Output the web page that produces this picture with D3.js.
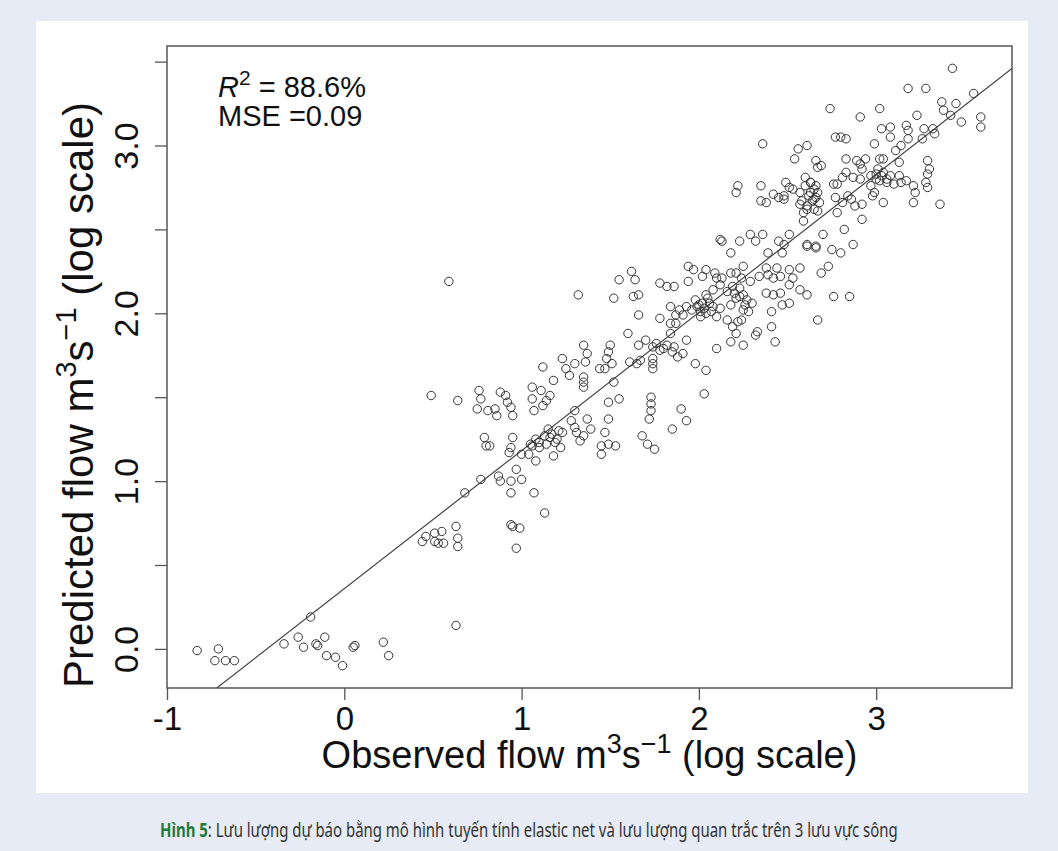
<!DOCTYPE html>
<html>
<head>
<meta charset="utf-8">
<script src="https://cdn.jsdelivr.net/npm/d3@7"></script>
<style>
  body { margin: 0; background: #e6ebf5; }
  svg { display: block; }
</style>
</head>
<body>
<div id="chart"></div>
<script>
// observed vs predicted flow (log10 m3/s)
const obsX = [
  -0.83,-0.71,-0.73,-0.67,-0.62,-0.34,-0.19,-0.26,-0.23,-0.16,-0.15,-0.11,-0.10,-0.05,-0.01,0.05,0.06,0.22,0.25,0.63,
  0.49,0.46,0.44,0.51,0.55,0.51,0.56,0.53,0.63,0.64,0.64,0.68,0.59,
  0.64,0.76,0.77,0.75,0.81,0.85,0.86,0.88,0.91,0.92,0.94,0.95,
  1.06,1.11,1.12,1.06,1.07,1.12,1.14,1.16,1.18,1.23,1.25,1.27,1.30,1.35,1.37,1.36,1.35,1.35,1.35,
  1.44,1.48,1.49,1.50,1.51,1.52,1.47,1.49,1.55,1.60,1.61,1.65,1.67,1.66,1.70,1.74,1.74,1.74,1.74,1.78,1.82,1.85,1.88,1.91,1.93,1.84,
  1.73,1.73,1.73,1.72,1.85,1.90,1.93,1.68,1.71,1.75,
  1.49,1.47,1.45,1.45,1.49,1.53,1.37,1.39,1.35,1.33,1.30,1.28,1.30,1.31,1.23,1.22,1.19,1.18,1.16,1.15,1.13,1.14,1.10,1.10,1.08,1.05,1.06,1.08,1.04,1.00,0.95,0.94,0.93,0.97,
  0.79,0.80,0.82,0.87,0.88,0.94,1.00,0.94,1.07,1.13,0.77,0.94,0.95,0.99,0.97,
  1.32,1.52,1.55,1.62,1.64,1.63,1.66,1.66,
  1.78,1.82,1.86,1.94,1.94,1.97,2.04,2.02,2.09,2.10,2.13,2.18,2.21,2.25,2.24,2.29,2.34,2.38,2.44,2.39,2.42,2.46,2.51,2.57,2.53,2.51,2.57,2.61,2.46,2.42,2.38,2.47,2.51,2.41,2.41,2.33,2.32,2.43,2.25,2.18,2.10,2.04,2.03,1.98,
  2.22,2.24,2.19,2.21,2.16,2.12,2.07,2.04,2.10,2.01,1.99,1.96,1.98,2.02,2.04,2.08,2.12,2.16,2.19,2.23,2.25,2.21,2.26,2.30,2.28,2.25,2.18,1.93,1.89,1.91,1.87,1.84,1.78,1.84,1.87,
  2.12,2.13,2.18,2.23,2.29,2.36,2.32,2.39,2.45,2.51,2.48,2.47,2.61,2.66,
  2.22,2.21,2.35,2.35,2.38,2.42,2.45,2.48,2.53,2.57,2.60,2.63,2.57,2.61,2.65,2.67,2.59,2.67,2.36,
  3.43,3.18,3.28,3.55,3.37,3.45,3.38,3.42,3.48,3.59,3.59,2.74,2.91,3.02,3.23,3.03,3.08,3.17,3.18,3.27,3.32,3.33,3.26,3.08,2.99,3.18,3.14,3.11,2.77,2.80,2.83,2.61,2.56,2.54,2.66,2.69,2.67,2.83,2.89,2.91,2.94,2.92,3.02,3.04,3.13,3.29,3.30,3.29,
  2.83,2.81,2.87,2.91,2.97,3.00,3.04,3.08,3.13,3.02,3.06,3.10,3.14,3.17,3.21,3.22,3.28,3.29,2.97,2.99,2.98,3.04,3.21,3.36,2.76,2.78,2.77,2.81,2.86,2.88,2.92,2.84,2.78,2.92,2.82,2.70,2.87,2.75,2.80,2.73,2.69,2.76,2.85,2.61,2.66,
  2.60,2.63,2.65,2.66,2.58,2.61,2.64,2.66,2.68,2.59,2.67,2.49,2.48,2.51,
  2.00,2.03,2.06,2.05,2.08,2.01,2.20,2.23,2.27,3.00,3.03,3.06,3.01,2.62,2.65,2.63,1.17,1.20,1.21,1.76,1.80,1.86
];
const predY = [
  -0.01,0.00,-0.07,-0.07,-0.07,0.03,0.19,0.07,0.01,0.03,0.02,0.07,-0.04,-0.05,-0.10,0.01,0.02,0.04,-0.04,0.14,
  1.51,0.67,0.64,0.69,0.70,0.64,0.63,0.63,0.73,0.61,0.66,0.93,2.19,
  1.48,1.54,1.49,1.43,1.42,1.43,1.39,1.53,1.51,1.47,1.44,1.39,
  1.56,1.54,1.68,1.49,1.42,1.45,1.48,1.51,1.60,1.73,1.67,1.63,1.70,1.81,1.76,1.71,1.62,1.59,1.56,
  1.67,1.73,1.77,1.81,1.70,1.59,1.67,1.47,1.49,1.88,1.71,1.70,1.72,1.81,1.84,1.80,1.73,1.70,1.67,1.78,1.81,1.77,1.74,1.76,1.84,1.88,
  1.50,1.46,1.42,1.37,1.31,1.43,1.36,1.27,1.22,1.19,
  1.37,1.29,1.21,1.16,1.22,1.21,1.37,1.31,1.27,1.24,1.42,1.36,1.32,1.29,1.29,1.20,1.23,1.15,1.26,1.31,1.27,1.22,1.23,1.20,1.25,1.22,1.21,1.12,1.16,1.16,1.26,1.20,1.17,1.07,
  1.26,1.21,1.21,1.03,1.00,1.00,1.01,0.93,0.93,0.81,1.01,0.74,0.73,0.72,0.60,
  2.11,2.09,2.20,2.25,2.20,2.10,2.11,1.99,
  2.18,2.16,2.16,2.19,2.28,2.26,2.26,2.22,2.24,2.21,2.21,2.24,2.24,2.28,2.21,2.19,2.22,2.27,2.27,2.23,2.21,2.22,2.26,2.27,2.21,2.17,2.14,2.11,2.12,2.11,2.12,2.05,2.06,2.01,1.92,1.89,1.87,1.83,1.81,1.83,1.79,1.66,1.52,1.70,
  1.95,1.96,1.92,1.88,1.96,2.03,2.01,2.00,1.98,1.98,2.04,2.02,2.08,2.06,2.11,2.14,2.17,2.13,2.16,2.15,2.11,2.09,2.05,2.06,2.01,2.02,2.05,2.04,2.02,1.99,1.99,2.04,1.97,1.94,1.94,
  2.44,2.43,2.36,2.43,2.47,2.47,2.43,2.36,2.43,2.47,2.41,2.36,2.40,2.39,
  2.76,2.72,2.76,2.67,2.66,2.71,2.69,2.68,2.74,2.72,2.76,2.78,2.65,2.62,2.68,2.72,2.55,1.96,3.01,
  3.46,3.34,3.34,3.31,3.26,3.25,3.21,3.18,3.14,3.17,3.11,3.22,3.17,3.22,3.18,3.10,3.11,3.12,3.09,3.10,3.10,3.07,3.04,3.05,3.01,3.04,3.00,2.97,3.05,3.05,3.04,3.00,2.98,2.92,2.91,2.88,2.87,2.92,2.91,2.89,2.92,2.86,2.92,2.92,2.90,2.91,2.86,2.83,
  2.84,2.81,2.81,2.80,2.82,2.83,2.84,2.82,2.82,2.79,2.78,2.77,2.78,2.79,2.76,2.72,2.78,2.75,2.76,2.72,2.70,2.66,2.66,2.65,2.77,2.77,2.69,2.66,2.68,2.64,2.65,2.70,2.60,2.56,2.50,2.47,2.41,2.38,2.36,2.28,2.24,2.10,2.10,2.41,2.40,
  2.81,2.78,2.74,2.76,2.67,2.64,2.67,2.69,2.66,2.60,2.61,2.78,2.70,2.75,
  2.05,2.03,2.06,2.09,2.04,2.01,2.12,2.10,2.08,2.80,2.82,2.80,2.86,2.70,2.62,2.72,1.28,1.25,1.30,1.82,1.79,1.80
];
const xTicks = [-1, 0, 1, 2, 3];
const yTicks = [0, 0.5, 1, 1.5, 2, 2.5, 3, 3.5];
const fit = { intercept: 0.359, slope: 0.823 };
const r2Text = "88.6%";
const mseText = "0.09";
const captionLead = "Hình 5";
const captionRest = ": Lưu lượng dự báo bằng mô hình tuyến tính elastic net và lưu lượng quan trắc trên 3 lưu vực sông";

const width = 1058, height = 851;
const m = { left: 167, right: 1012, top: 46, bottom: 688 };
const font = "'Liberation Sans', Arial, sans-serif";

const svg = d3.select("#chart").append("svg")
  .attr("width", width).attr("height", height);

svg.append("rect").attr("width", width).attr("height", height).attr("fill", "#e6ebf5");
svg.append("rect").attr("x", 36).attr("y", 21).attr("width", 992).attr("height", 772).attr("fill", "#fff");

const x = d3.scaleLinear().domain([-1, 3.766]).range([m.left, m.right]);
const y = d3.scaleLinear().domain([-0.233, 3.593]).range([m.bottom, m.top]);

svg.append("clipPath").attr("id", "plotclip")
  .append("rect").attr("x", m.left).attr("y", m.top)
  .attr("width", m.right - m.left).attr("height", m.bottom - m.top);

// axes
const xAxis = svg.append("g")
  .attr("transform", `translate(0,${m.bottom})`)
  .call(d3.axisBottom(x).tickValues(xTicks).tickSize(12).tickSizeOuter(0).tickFormat(d => String(d)));
xAxis.select(".domain").remove();
xAxis.selectAll("line").attr("stroke", "#555").attr("stroke-width", 1.3);
xAxis.selectAll("text").attr("y", 42).attr("dy", 0)
  .style("font-family", font).style("font-size", "33px").attr("fill", "#111");

const yAxis = svg.append("g")
  .attr("transform", `translate(${m.left},0)`)
  .call(d3.axisLeft(y).tickValues(yTicks).tickSize(12).tickSizeOuter(0)
    .tickFormat(d => d % 1 === 0 ? d.toFixed(1) : ""));
yAxis.select(".domain").remove();
yAxis.selectAll("line").attr("stroke", "#555").attr("stroke-width", 1.3);
yAxis.selectAll("text")
  .attr("transform", "rotate(-90)")
  .attr("x", 0).attr("y", -29).attr("dy", 0)
  .attr("text-anchor", "middle")
  .style("font-family", font).style("font-size", "34px").attr("fill", "#111");

// regression line
svg.append("line")
  .attr("clip-path", "url(#plotclip)")
  .attr("x1", x(-1)).attr("y1", y(fit.intercept - fit.slope))
  .attr("x2", x(3.766)).attr("y2", y(fit.intercept + fit.slope * 3.766))
  .attr("stroke", "#444").attr("stroke-width", 1.2);

// points
svg.append("g").selectAll("circle")
  .data(d3.range(obsX.length))
  .join("circle")
  .attr("cx", i => x(obsX[i]))
  .attr("cy", i => y(predY[i]))
  .attr("r", 4.2)
  .attr("fill", "none")
  .attr("stroke", "#333")
  .attr("stroke-width", 1);

// box
svg.append("rect")
  .attr("x", m.left).attr("y", m.top)
  .attr("width", m.right - m.left).attr("height", m.bottom - m.top)
  .attr("fill", "none").attr("stroke", "#555").attr("stroke-width", 1.5);

// stats
const stat = svg.append("g").style("font-family", font).style("font-size", "29px").attr("fill", "#111");
const t1 = stat.append("text").attr("x", 218).attr("y", 97);
t1.append("tspan").style("font-style", "italic").text("R");
t1.append("tspan").attr("dy", -12).style("font-size", "21px").text("2");
t1.append("tspan").attr("dy", 12).text(" = " + r2Text);
stat.append("text").attr("x", 218).attr("y", 126).text("MSE =" + mseText);

// axis titles
function title(sel, lead, tail, fs) {
  const sup = Math.round(fs * 0.7), up = Math.round(fs * 0.4);
  sel.append("tspan").text(lead + " m");
  sel.append("tspan").attr("dy", -up).style("font-size", sup + "px").text("3");
  sel.append("tspan").attr("dy", up).text("s");
  sel.append("tspan").attr("dy", -up).style("font-size", sup + "px").text("\u22121");
  sel.append("tspan").attr("dy", up).text(" " + tail);
}
const xt = svg.append("text")
  .attr("x", (m.left + m.right) / 2).attr("y", 768)
  .attr("text-anchor", "middle")
  .style("font-family", font).style("font-size", "38px").attr("fill", "#111");
title(xt, "Observed flow", "(log scale)", 38);

const yt = svg.append("text")
  .attr("transform", "translate(93,395) rotate(-90)")
  .attr("text-anchor", "middle")
  .style("font-family", font).style("font-size", "42px").attr("fill", "#111");
title(yt, "Predicted flow", "(log scale)", 42);

// caption: two pieces, squeezed horizontally to the reference width
const capFont = "'Liberation Sans Narrow', 'Noto Sans', sans-serif";
const capG = svg.append("g");
const lead = capG.append("text").attr("x", 0).attr("y", 0)
  .style("font-family", capFont).style("font-size", "19px").style("font-weight", "bold")
  .attr("fill", "#1f7a3a").text(captionLead);
const leadW = lead.node().getComputedTextLength();
const rest = capG.append("text").attr("x", leadW).attr("y", 0)
  .style("font-family", capFont).style("font-size", "19px")
  .attr("fill", "#333").text(captionRest);
const totalW = leadW + rest.node().getComputedTextLength();
const sx = Math.min(1, 738 / totalW);
capG.attr("transform", `translate(${529 - totalW * sx / 2},837) scale(${sx},1)`);
</script>
</body>
</html>
